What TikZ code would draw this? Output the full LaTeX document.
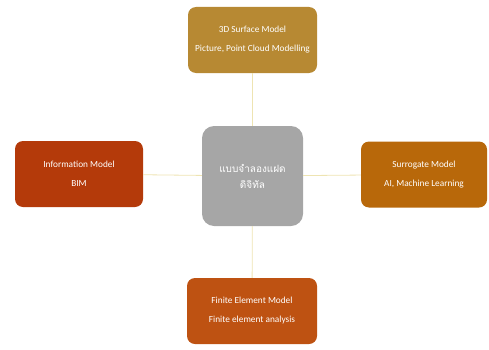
\documentclass[tikz,border=0pt]{standalone}
\usepackage{fontspec}
\setmainfont{Carlito}
\newfontfamily\thaifont[Script=Thai]{Loma}
\definecolor{goldbox}{RGB}{183,137,51}
\definecolor{rustbox}{RGB}{180,58,10}
\definecolor{amberbox}{RGB}{184,104,10}
\definecolor{burntbox}{RGB}{190,82,18}
\definecolor{greybox}{RGB}{166,166,166}
\definecolor{linkline}{RGB}{238,228,178}
\tikzset{
  modelbox/.style={rectangle,rounded corners=8pt,minimum width=129pt,minimum height=66pt,
    align=center,text=white,font=\fontsize{9.3}{11}\selectfont,inner sep=2pt},
  hubbox/.style={rectangle,rounded corners=12pt,fill=greybox,minimum width=101pt,
    minimum height=100pt,align=center,text=white,font=\thaifont\fontsize{10}{16}\selectfont},
  link/.style={draw=linkline,line width=0.8pt}
}
\begin{document}
\begin{tikzpicture}[x=1pt,y=1pt]
\useasboundingbox (0,0) rectangle (489,349);
\node[hubbox] (hub) at (252.5,173) {แบบจำลองแฝด\\ดิจิทัล};
\node[modelbox,fill=goldbox] (surf) at (252.5,309) {3D Surface Model\\[8pt]Picture, Point Cloud Modelling};
\node[modelbox,fill=rustbox,minimum width=128pt] (info) at (79,175) {Information Model\\[8pt]BIM};
\node[modelbox,fill=amberbox,minimum width=126pt] (surr) at (424,174.5) {Surrogate Model\\[8pt]AI, Machine Learning};
\node[modelbox,fill=burntbox,minimum width=130pt] (fem) at (252,38) {Finite Element Model\\[8pt]Finite element analysis};
\draw[link] (hub) -- (surf);
\draw[link] (hub) -- (info);
\draw[link] (hub) -- (surr);
\draw[link] (hub) -- (fem);
\end{tikzpicture}
\end{document}
